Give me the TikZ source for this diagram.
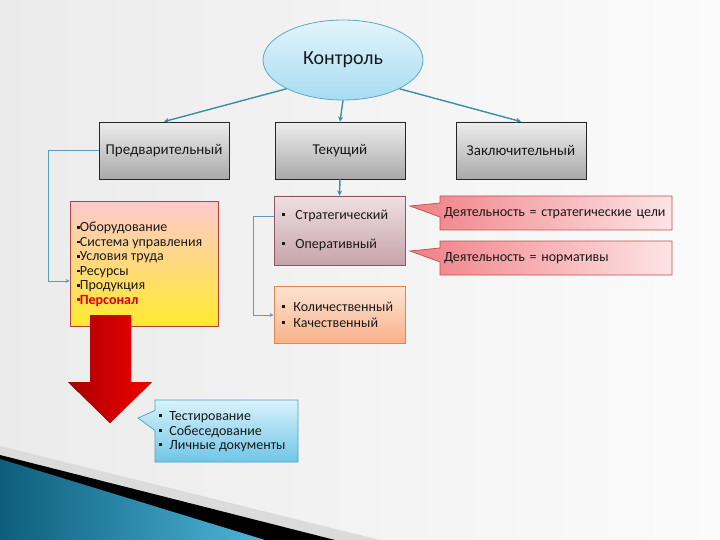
\documentclass[tikz,border=0pt]{standalone}
\usepackage{fontspec}
\setmainfont{Carlito}
\usetikzlibrary{shapes.geometric,shapes.callouts,arrows.meta}
\definecolor{bgL}{HTML}{EBEBEB}
\definecolor{bgR}{HTML}{FBFBFB}
\definecolor{ellT}{HTML}{E2F4FC}
\definecolor{ellB}{HTML}{A8DCF2}
\definecolor{ellD}{HTML}{5AAAC4}
\definecolor{teal}{HTML}{3A8FA6}
\definecolor{lblue}{HTML}{5B9CC0}
\definecolor{grT}{HTML}{EDEDED}
\definecolor{grB}{HTML}{A9A9A9}
\definecolor{stT}{HTML}{EEDFE2}
\definecolor{stB}{HTML}{C7A3AC}
\definecolor{stD}{HTML}{8E5565}
\definecolor{cnT}{HTML}{FDE3D3}
\definecolor{cnB}{HTML}{F8B28A}
\definecolor{cnD}{HTML}{E0864F}
\definecolor{ybT}{HTML}{FFC9CC}
\definecolor{ybB}{HTML}{FFEA2E}
\definecolor{ybD}{HTML}{B5423C}
\definecolor{clL}{HTML}{F07F85}
\definecolor{clR}{HTML}{FDE4E5}
\definecolor{clD}{HTML}{C0504D}
\definecolor{bcT}{HTML}{D8F2FC}
\definecolor{bcB}{HTML}{6FC6E6}
\definecolor{bcD}{HTML}{4BA3C6}
\definecolor{tealL}{HTML}{0D5E7C}
\definecolor{tealR}{HTML}{4FB6DA}
\definecolor{arrL}{HTML}{A80000}
\definecolor{arrR}{HTML}{F20000}
\newcommand{\sqb}{\rule[0.18em]{3.2pt}{3.2pt}}
\newcommand{\smb}{\rule[0.22em]{2.6pt}{2.6pt}}
\begin{document}
\begin{tikzpicture}[x=1pt,y=-1pt,
  every node/.style={font=\fontsize{14}{14.4}\selectfont, text=black!90},
  graybox/.style={draw=black!85, line width=0.8pt, top color=grT, bottom color=grB, minimum width=130pt, minimum height=57pt, font=\fontsize{15}{16}\selectfont},
  tline/.style={draw=teal, line width=1.4pt, -{Stealth[length=5pt,width=5pt]}},
  bline/.style={draw=lblue, line width=0.9pt, -{Stealth[length=4pt,width=4pt]}},
  callbox/.style={rectangle callout, draw=clD, line width=0.7pt, left color=clL, right color=clR, minimum width=232pt, minimum height=34pt, text width=224pt, inner xsep=4pt, align=left, callout pointer width=14pt},
  bul/.style={inner sep=0pt, anchor=base west, align=left}
]
\useasboundingbox (0,0) rectangle (720,540);
\fill[left color=bgL, right color=bgR] (0,0) rectangle (720,540);
% bottom decoration
\fill[black!14] (0,446) -- (380,540) -- (0,540) -- cycle;
\fill[black] (0,455) -- (335,540) -- (0,540) -- cycle;
\fill[left color=tealL, right color=tealR] (0,459) -- (265,540) -- (0,540) -- cycle;

% top ellipse
\node[ellipse, draw=ellD, line width=0.8pt, top color=ellT, bottom color=ellB, minimum width=160pt, minimum height=80pt, font=\fontsize{20}{22}\selectfont] (ctl) at (343,60) {Контроль};

\node[graybox] (pre) at (164,150.5) {Предварительный};
\node[graybox] (cur) at (340,150.5) {Текущий};
\node[graybox] (fin) at (521,150.5) {Заключительный};

\draw[tline] (ctl.207) -- (pre.north);
\draw[tline] (ctl.south) -- (cur.north);
\draw[tline] (ctl.333) -- (fin.north);

% yellow box
\node[draw=ybD, line width=0.8pt, top color=ybT, bottom color=ybB, minimum width=148pt, minimum height=125pt] (yb) at (144,264) {};
\node[bul] (y1) at (77,232) {\smb Оборудование};
\node[bul] (y2) at (77,246.4) {\smb Система управления};
\node[bul] (y3) at (77,260.8) {\smb Условия труда};
\node[bul] (y4) at (77,275.2) {\smb Ресурсы};
\node[bul] (y5) at (77,289.6) {\smb Продукция};
\node[bul, text=red!85!black, font=\fontsize{14}{14.4}\selectfont\bfseries] (y6) at (77,304) {\smb Персонал};

\draw[bline] (pre.west) -- (48,150.5) -- (48,281) -- (yb.west |- 48,281);

% current boxes
\node[draw=stD, line width=0.8pt, top color=stT, bottom color=stB, minimum width=131pt, minimum height=69pt] (strat) at (339.5,230.5) {};
\node[bul] (s1) at (282,219) {\sqb\hspace{10pt}Стратегический};
\node[bul] (s2) at (282,248) {\sqb\hspace{10pt}Оперативный};
\node[draw=cnD, line width=0.8pt, top color=cnT, bottom color=cnB, minimum width=131pt, minimum height=57pt] (cnt) at (339.5,314.5) {};
\node[bul] (k1) at (282,311) {\sqb\hspace{8pt}Количественный};
\node[bul] (k2) at (282,327) {\sqb\hspace{8pt}Качественный};

\draw[tline] (cur.south) -- (strat.north);
\draw[bline] (strat.west |- 0,216) -- (253,216) -- (253,315) -- (cnt.west |- 0,315);

% callouts
\node[callbox, callout absolute pointer={(410,206)}] (c1) at (556,213) {Деятельность = стратегические цели};
\node[callbox, callout absolute pointer={(410,251)}] (c2) at (556,258) {Деятельность = нормативы};

% red arrow
\fill[left color=arrL, right color=arrR] (90,315) -- (131,315) -- (131,382) -- (152,382) -- (110,423) -- (68,382) -- (90,382) -- cycle;

% blue callout
\node[rectangle callout, draw=bcD, line width=0.7pt, top color=bcT, bottom color=bcB, minimum width=143pt, minimum height=62pt, callout absolute pointer={(138,418)}, callout pointer width=20pt] (bc) at (226.5,431) {};
\node[bul] (b1) at (159,420) {\sqb\hspace{7pt}Тестирование};
\node[bul] (b2) at (159,435) {\sqb\hspace{7pt}Собеседование};
\node[bul] (b3) at (159,449) {\sqb\hspace{7pt}Личные документы};
\end{tikzpicture}
\end{document}
